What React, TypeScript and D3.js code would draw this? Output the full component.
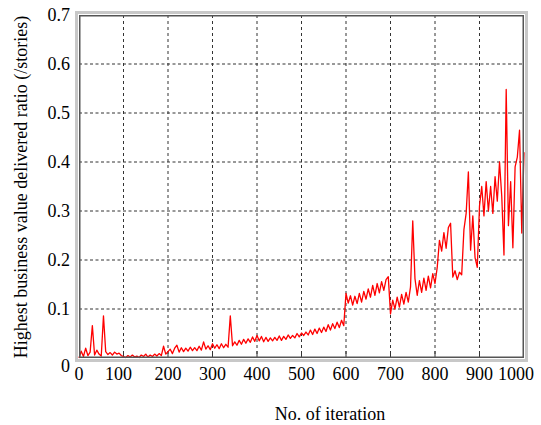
import React, { useEffect, useRef } from "react";
import * as d3 from "d3";

const step = 5;
const ratioValues = [
  0.0, 0.014, 0.003, 0.02, 0.005, 0.012, 0.066, 0.006, 0.016, 0.008,
  0.004, 0.086, 0.013, 0.007, 0.011, 0.006, 0.012, 0.008, 0.01, 0.005,
  0.003, 0.001, 0.005, 0.002, 0.006, 0.002, 0.004, 0.001, 0.006, 0.003,
  0.008, 0.002, 0.006, 0.003, 0.008, 0.004, 0.009, 0.005, 0.024, 0.008,
  0.013, 0.018, 0.009, 0.02, 0.026, 0.012, 0.021, 0.013, 0.02, 0.014,
  0.022, 0.015, 0.021, 0.015, 0.024, 0.016, 0.033, 0.018, 0.025, 0.017,
  0.029, 0.02, 0.027, 0.019, 0.029, 0.021, 0.028, 0.022, 0.086, 0.025,
  0.033, 0.026, 0.036, 0.028, 0.038, 0.03, 0.039, 0.032, 0.043, 0.034,
  0.046, 0.035, 0.044, 0.033, 0.042, 0.034, 0.041, 0.035, 0.042, 0.036,
  0.045, 0.036, 0.044, 0.038, 0.047, 0.04, 0.046, 0.041, 0.05, 0.043,
  0.051, 0.046, 0.053, 0.047, 0.057, 0.048, 0.059, 0.05, 0.061, 0.052,
  0.063, 0.054, 0.068, 0.057, 0.07, 0.06, 0.073, 0.062, 0.077, 0.066,
  0.132, 0.112, 0.127, 0.108, 0.126, 0.111, 0.132, 0.114, 0.136, 0.12,
  0.141, 0.124, 0.148, 0.128, 0.152, 0.133, 0.156, 0.138, 0.16, 0.166,
  0.09, 0.118, 0.1, 0.124, 0.104, 0.13, 0.11, 0.134, 0.114, 0.145,
  0.28, 0.162, 0.128, 0.158, 0.134, 0.163, 0.138, 0.167, 0.143, 0.172,
  0.152, 0.185, 0.24, 0.218, 0.256, 0.224, 0.266, 0.275, 0.165, 0.178,
  0.16, 0.175, 0.17, 0.262, 0.295, 0.38, 0.22, 0.29, 0.205, 0.185,
  0.31, 0.35, 0.29, 0.36, 0.3, 0.35, 0.295, 0.37, 0.32, 0.4,
  0.33, 0.21, 0.548, 0.27, 0.36, 0.225, 0.39, 0.41, 0.465, 0.255,
  0.42,
];

const xTicks = [0, 100, 200, 300, 400, 500, 600, 700, 800, 900, 1000];
const yTicks = [0, 0.1, 0.2, 0.3, 0.4, 0.5, 0.6, 0.7];

const xLabel = "No. of iteration";
const yLabel = "Highest business value delivered ratio (/stories)";

export default function App() {
  const ref = useRef<SVGSVGElement>(null);

  useEffect(() => {
    const svg = d3.select(ref.current);
    svg.selectAll("*").remove();

    const left = 79;
    const right = 524;
    const top = 15;
    const bottom = 358;
    const font = "Liberation Serif, Times New Roman, Times, serif";

    const x = d3.scaleLinear().domain([0, 1000]).range([left, right]);
    const y = d3.scaleLinear().domain([0, 0.7]).range([bottom, top]);

    svg.append("rect").attr("width", 541).attr("height", 425).attr("fill", "#fff");

    // grid
    svg
      .selectAll("line.vgrid")
      .data(xTicks.slice(1, -1))
      .join("line")
      .attr("class", "vgrid")
      .attr("x1", (d) => x(d))
      .attr("x2", (d) => x(d))
      .attr("y1", top)
      .attr("y2", bottom)
      .attr("stroke", "#333")
      .attr("stroke-width", 1)
      .attr("stroke-dasharray", "3,3");

    svg
      .selectAll("line.hgrid")
      .data(yTicks.slice(1, -1))
      .join("line")
      .attr("class", "hgrid")
      .attr("x1", left)
      .attr("x2", right)
      .attr("y1", (d) => y(d))
      .attr("y2", (d) => y(d))
      .attr("stroke", "#333")
      .attr("stroke-width", 1)
      .attr("stroke-dasharray", "3,2.5");

    // inward ticks on the bottom axis
    svg
      .selectAll("line.xtick")
      .data(xTicks.slice(1, -1))
      .join("line")
      .attr("class", "xtick")
      .attr("x1", (d) => x(d))
      .attr("x2", (d) => x(d))
      .attr("y1", bottom)
      .attr("y2", bottom - 7)
      .attr("stroke", "#333")
      .attr("stroke-width", 1);

    // data line
    const line = d3
      .line<number>()
      .x((d, i) => x(i * step))
      .y((d) => y(d));

    svg
      .append("path")
      .datum(ratioValues)
      .attr("d", line)
      .attr("fill", "none")
      .attr("stroke", "#f00")
      .attr("stroke-width", 1.3)
      .attr("stroke-linejoin", "round");

    // frame
    svg
      .append("rect")
      .attr("x", left - 2.5)
      .attr("y", top - 2.5)
      .attr("width", right - left + 5)
      .attr("height", bottom - top + 5)
      .attr("fill", "none")
      .attr("stroke", "#c8c8c8")
      .attr("stroke-width", 3);

    svg
      .append("rect")
      .attr("x", left + 0.75)
      .attr("y", top + 0.75)
      .attr("width", right - left - 1.5)
      .attr("height", bottom - top - 1.5)
      .attr("fill", "none")
      .attr("stroke", "#555")
      .attr("stroke-width", 1.5);

    // tick labels
    svg
      .selectAll("text.xlab")
      .data(xTicks)
      .join("text")
      .attr("class", "xlab")
      .attr("x", (d) => x(d) + (d === 1000 ? -8 : d === 100 ? -5 : 0))
      .attr("y", 380)
      .attr("text-anchor", "middle")
      .attr("font-family", font)
      .attr("font-size", 18)
      .text((d) => String(d));

    svg
      .selectAll("text.ylab")
      .data(yTicks)
      .join("text")
      .attr("class", "ylab")
      .attr("x", 70)
      .attr("y", (d) => y(d) + (d === 0 ? 8 : 0))
      .attr("dy", "0.35em")
      .attr("text-anchor", "end")
      .attr("font-family", font)
      .attr("font-size", 18)
      .text((d) => (d === 0 ? "0" : d3.format(".1f")(d)));

    // axis titles
    svg
      .append("text")
      .attr("x", 330)
      .attr("y", 420)
      .attr("text-anchor", "middle")
      .attr("font-family", font)
      .attr("font-size", 18)
      .text(xLabel);

    svg
      .append("text")
      .attr("transform", "translate(27,187) rotate(-90)")
      .attr("text-anchor", "middle")
      .attr("font-family", font)
      .attr("font-size", 18)
      .text(yLabel);
  }, []);

  return (
    <svg
      ref={ref}
      width={541}
      height={425}
      style={{ position: "absolute", left: 0, top: 0 }}
    />
  );
}
